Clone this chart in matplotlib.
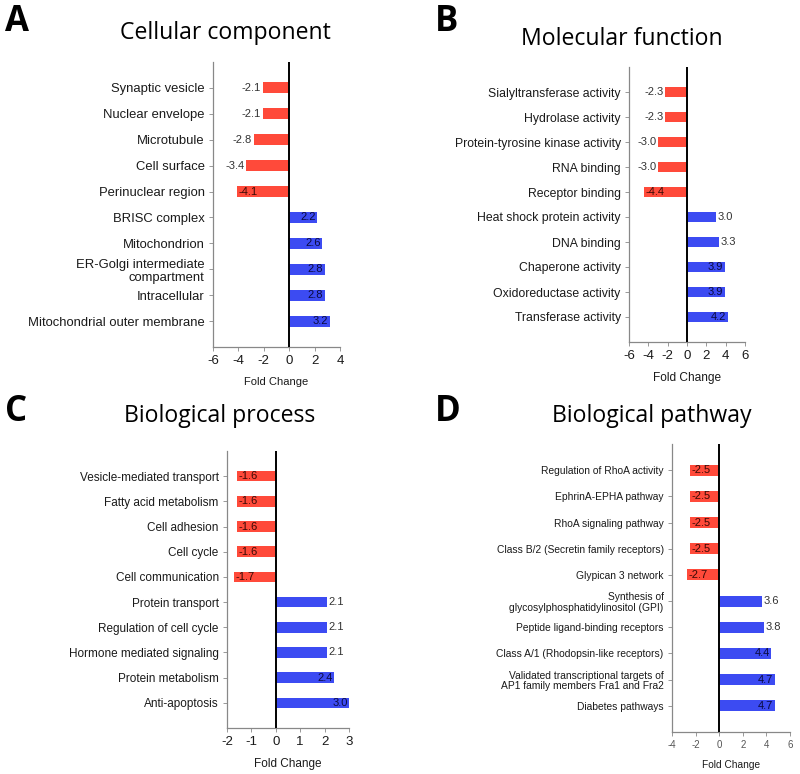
import matplotlib
matplotlib.use("Agg")
import matplotlib.pyplot as plt

# ---------------- data ----------------
cc_terms = ["Synaptic vesicle", "Nuclear envelope", "Microtubule", "Cell surface",
            "Perinuclear region", "BRISC complex", "Mitochondrion",
            "ER-Golgi intermediate\ncompartment", "Intracellular",
            "Mitochondrial outer membrane"]
cc_values = [-2.1, -2.1, -2.8, -3.4, -4.1, 2.2, 2.6, 2.8, 2.8, 3.2]

mf_terms = ["Sialyltransferase activity", "Hydrolase activity",
            "Protein-tyrosine kinase activity", "RNA binding", "Receptor binding",
            "Heat shock protein activity", "DNA binding", "Chaperone activity",
            "Oxidoreductase activity", "Transferase activity"]
mf_values = [-2.3, -2.3, -3.0, -3.0, -4.4, 3.0, 3.3, 3.9, 3.9, 4.2]

bp_terms = ["Vesicle-mediated transport", "Fatty acid metabolism", "Cell adhesion",
            "Cell cycle", "Cell communication", "Protein transport",
            "Regulation of cell cycle", "Hormone mediated signaling",
            "Protein metabolism", "Anti-apoptosis"]
bp_values = [-1.6, -1.6, -1.6, -1.6, -1.7, 2.1, 2.1, 2.1, 2.4, 3.0]

pw_terms = ["Regulation of RhoA activity", "EphrinA-EPHA pathway",
            "RhoA signaling pathway", "Class B/2 (Secretin family receptors)",
            "Glypican 3 network", "Synthesis of\nglycosylphosphatidylinositol (GPI)",
            "Peptide ligand-binding receptors", "Class A/1 (Rhodopsin-like receptors)",
            "Validated transcriptional targets of\nAP1 family members Fra1 and Fra2",
            "Diabetes pathways"]
pw_values = [-2.5, -2.5, -2.5, -2.5, -2.7, 3.6, 3.8, 4.4, 4.7, 4.7]

cc_xticks = [-6, -4, -2, 0, 2, 4]
mf_xticks = [-6, -4, -2, 0, 2, 4, 6]
bp_xticks = [-2, -1, 0, 1, 2, 3]
pw_xticks = [-4, -2, 0, 2, 4, 6]

# ---------------- style ----------------
RED = "#FF4A3A"
BLUE = "#3C4BF2"
TXT = "#1a1a1a"
SPINE = "#888888"

W, H = 800, 774
fig = plt.figure(figsize=(W / 100, H / 100), dpi=100)


def axes_px(left, right, top, bottom):
    return fig.add_axes([left / W, 1 - bottom / H, (right - left) / W, (bottom - top) / H])


def panel(rect, terms, values, xticks, inside, title, letter, title_xy, letter_xy,
          ylab_fs, xtick_fs, xlab_fs, xtick_color, lab_fs):
    ax = axes_px(*rect)
    pos = list(range(len(terms)))
    colors = [RED if v < 0 else BLUE for v in values]
    ax.barh(pos, values, height=0.42, color=colors, zorder=2)
    ax.axvline(0, color="black", lw=1.4, zorder=3)
    ax.set_xlim(xticks[0], xticks[-1])
    ax.set_ylim(10, -1)
    ax.set_yticks(pos)
    ax.set_yticklabels(terms, fontsize=ylab_fs, color=TXT, family="Liberation Sans",
                       linespacing=1.1)
    ax.set_xticks(xticks)
    ax.set_xticklabels([str(t) for t in xticks], fontsize=xtick_fs, color=xtick_color,
                       family="Liberation Sans")
    ax.tick_params(axis="both", length=3, width=0.6, color=SPINE, pad=3)
    for s in ["top", "right"]:
        ax.spines[s].set_visible(False)
    for s in ["left", "bottom"]:
        ax.spines[s].set_color(SPINE)
        ax.spines[s].set_linewidth(0.9)
    ax.set_xlabel("Fold Change", fontsize=xlab_fs, color=TXT,
                  family="Liberation Sans", labelpad=7)
    span = xticks[-1] - xticks[0]
    off = span * 0.012
    for p, v, ins in zip(pos, values, inside):
        txt = f"{v:.1f}"
        if ins:
            if v < 0:
                ax.text(v + off, p, txt, ha="left", va="center", fontsize=lab_fs,
                        color="#3a0a05", family="Liberation Sans", zorder=4)
            else:
                ax.text(v - off, p, txt, ha="right", va="center", fontsize=lab_fs,
                        color="#0a0a40", family="Liberation Sans", zorder=4)
        else:
            if v < 0:
                ax.text(v - off, p, txt, ha="right", va="center", fontsize=lab_fs,
                        color="#333333", family="Liberation Sans", zorder=4)
            else:
                ax.text(v + off, p, txt, ha="left", va="center", fontsize=lab_fs,
                        color="#333333", family="Liberation Sans", zorder=4)
    fig.text(title_xy[0] / W, 1 - title_xy[1] / H, title, ha="center", va="center",
             fontsize=16.6, family="Open Sans", color="black")
    fig.text(letter_xy[0] / W, 1 - letter_xy[1] / H, letter, ha="left", va="center",
             fontsize=25, family="Open Sans", weight="bold", color="black")
    return ax


panel((213, 340, 62, 347), cc_terms, cc_values, cc_xticks,
      [False, False, False, False, True, True, True, True, True, True],
      "Cellular component", "A", (225, 33), (5, 22), 9.4, 9.5, 8.0, TXT, 8.0)
panel((629, 745, 67, 342), mf_terms, mf_values, mf_xticks,
      [False, False, False, False, True, False, False, True, True, True],
      "Molecular function", "B", (622, 39), (435, 22), 8.8, 9.5, 8.6, TXT, 8.0)
panel((227, 349, 451, 728), bp_terms, bp_values, bp_xticks,
      [True, True, True, True, True, False, False, False, True, True],
      "Biological process", "C", (220, 416), (5, 412), 8.5, 9.5, 8.5, TXT, 8.0)
panel((672, 790, 444, 732), pw_terms, pw_values, pw_xticks,
      [True, True, True, True, True, False, False, True, True, True],
      "Biological pathway", "D", (652, 416), (435, 412), 7.4, 7.0, 7.3, "#555555", 8.0)

fig.savefig("out.png", dpi=100)
